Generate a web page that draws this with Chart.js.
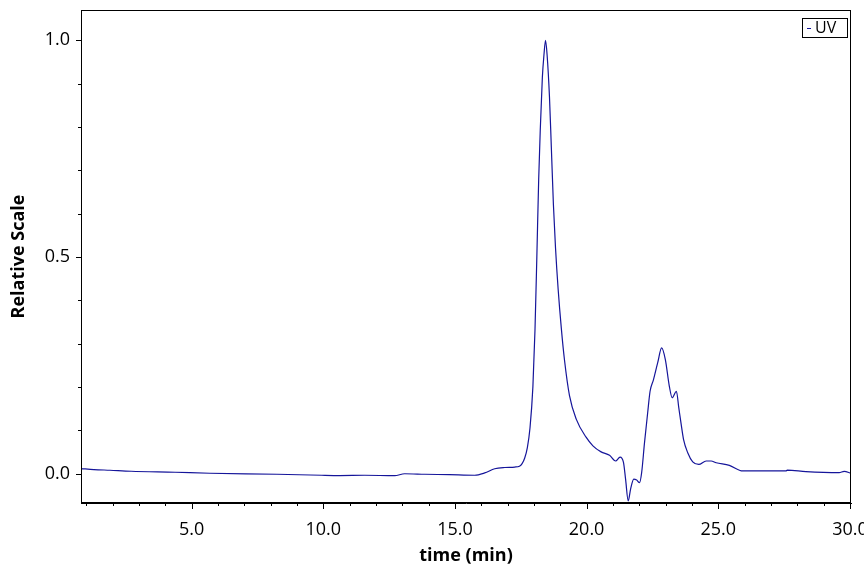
<!DOCTYPE html>
<html>
<head>
<meta charset="utf-8">
<script src="https://cdn.jsdelivr.net/npm/chart.js@4"></script>
<style>
  html, body { margin: 0; padding: 0; background: #fff; }
  #wrap { width: 864px; height: 576px; }
</style>
</head>
<body>
<div id="wrap"><canvas id="uvChart"></canvas></div>
<script>
// Zeitpunkte (min) und relative Signalwerte
const times = [0.80, 1.29, 1.90, 2.70, 4.37, 5.69, 8.24, 9.94, 10.63, 11.57, 12.71, 13.09, 13.85, 14.80, 15.75,
  16.13, 16.51, 16.89, 17.27, 17.45, 17.55, 17.65, 17.75, 17.85, 17.96, 18.04, 18.11, 18.18, 18.24, 18.32, 18.38,
  18.44, 18.50, 18.59, 18.66, 18.74, 18.82, 18.92, 19.04, 19.16, 19.35, 19.61, 19.98, 20.24, 20.55, 20.87, 21.10,
  21.27, 21.40, 21.48, 21.58, 21.67, 21.79, 21.90, 22.01, 22.09, 22.20, 22.32, 22.41, 22.54, 22.70, 22.85, 22.99,
  23.14, 23.25, 23.41, 23.50, 23.59, 23.68, 23.84, 24.03, 24.26, 24.54, 24.73, 24.92, 25.42, 25.93, 27.57, 27.62,
  28.33, 29.59, 29.78, 30.04];
const uvValues = [0.0115, 0.0092, 0.0076, 0.0053, 0.003, 0.0007, -0.0016, -0.004, -0.0046, -0.004, -0.005, -0.0005, -0.0016, -0.0027, -0.004,
  0.0014, 0.011, 0.014, 0.015, 0.017, 0.023, 0.036, 0.060, 0.105, 0.200, 0.332, 0.50, 0.678, 0.793, 0.915, 0.966,
  1.0, 0.966, 0.869, 0.754, 0.620, 0.520, 0.425, 0.335, 0.262, 0.180, 0.125, 0.084, 0.064, 0.050, 0.042, 0.029,
  0.038, 0.026, -0.013, -0.063, -0.036, -0.013, -0.015, -0.021, 0.002, 0.072, 0.141, 0.190, 0.217, 0.256, 0.290, 0.263,
  0.202, 0.175, 0.190, 0.152, 0.114, 0.079, 0.048, 0.027, 0.021, 0.029, 0.029, 0.025, 0.019, 0.006, 0.006, 0.008,
  0.0046, 0.0023, 0.005, 0.0007];

const seriesName = 'UV';
const lineColor = '#15159a';
const xTitle = 'time (min)';
const yTitle = 'Relative Scale';

// Rahmen, Tickmarken und Legende zeichnen
const framePlugin = {
  id: 'framePlugin',
  afterDraw(chart) {
    const { ctx, chartArea: a, scales: { x, y } } = chart;
    ctx.save();
    ctx.strokeStyle = '#000';
    ctx.lineWidth = 1;
    ctx.strokeRect(Math.round(a.left) + 0.5, Math.round(a.top) + 0.5,
      Math.round(a.right - a.left) - 1, Math.round(a.bottom - a.top) - 1);

    ctx.beginPath();
    for (let t = 1; t <= 30; t++) {
      const px = Math.round(x.getPixelForValue(t)) + 0.5;
      const len = t % 5 === 0 ? 6 : 3;
      ctx.moveTo(px, a.bottom);
      ctx.lineTo(px, a.bottom + len);
    }
    for (let i = 0; i <= 10; i++) {
      const v = i / 10;
      const py = Math.round(y.getPixelForValue(v)) + 0.5;
      const len = i % 5 === 0 ? 5 : 3;
      ctx.moveTo(a.left, py);
      ctx.lineTo(a.left - len, py);
    }
    ctx.stroke();

    // Legende oben rechts
    const bx = a.right - 49, by = a.top + 8, bw = 45, bh = 19;
    ctx.strokeRect(bx + 0.5, by + 0.5, bw, bh);
    ctx.strokeStyle = lineColor;
    ctx.beginPath();
    ctx.moveTo(bx + 5, by + 10.5);
    ctx.lineTo(bx + 9, by + 10.5);
    ctx.stroke();
    ctx.fillStyle = '#000';
    ctx.font = '16px "Open Sans"';
    ctx.textBaseline = 'middle';
    ctx.fillText(seriesName, bx + 13, by + 10);
    ctx.restore();
  }
};

const ctx = document.getElementById('uvChart').getContext('2d');
new Chart(ctx, {
  type: 'line',
  data: {
    datasets: [{
      label: seriesName,
      data: times.map((t, i) => ({ x: t, y: uvValues[i] })),
      borderColor: lineColor,
      borderWidth: 1.2,
      pointRadius: 0,
      fill: false,
      cubicInterpolationMode: 'monotone'
    }]
  },
  options: {
    responsive: true,
    maintainAspectRatio: false,
    animation: false,
    layout: { padding: { top: 10, right: 13, left: 0, bottom: 0 } },
    plugins: { legend: { display: false }, tooltip: { enabled: false } },
    scales: {
      x: {
        type: 'linear',
        min: 0.8,
        max: 30.04,
        grid: { display: false, drawTicks: false },
        border: { display: true, color: '#000' },
        ticks: {
          stepSize: 5,
          includeBounds: false,
          padding: 16,
          color: '#000',
          font: { family: 'Open Sans', size: 18 },
          maxRotation: 0,
          callback: v => v.toFixed(1)
        },
        title: {
          display: true,
          text: xTitle,
          color: '#000',
          font: { family: 'Open Sans', size: 18, weight: 'bold' },
          padding: { top: 0, bottom: 9 }
        },
        afterFit: s => { s.height = 73; s.paddingLeft = 0; s.paddingRight = 0; }
      },
      y: {
        min: -0.068,
        max: 1.07,
        grid: { display: false, drawTicks: false },
        border: { display: true, color: '#000' },
        ticks: {
          stepSize: 0.5,
          includeBounds: false,
          padding: 11,
          color: '#000',
          font: { family: 'Open Sans', size: 18 },
          callback: v => v.toFixed(1)
        },
        title: {
          display: true,
          text: yTitle,
          color: '#000',
          font: { family: 'Open Sans', size: 18, weight: 'bold' },
          padding: { top: 8, bottom: 0 }
        },
        afterFit: s => { s.width = 81; s.paddingTop = 0; s.paddingBottom = 0; }
      }
    }
  },
  plugins: [framePlugin]
});
</script>
</body>
</html>
